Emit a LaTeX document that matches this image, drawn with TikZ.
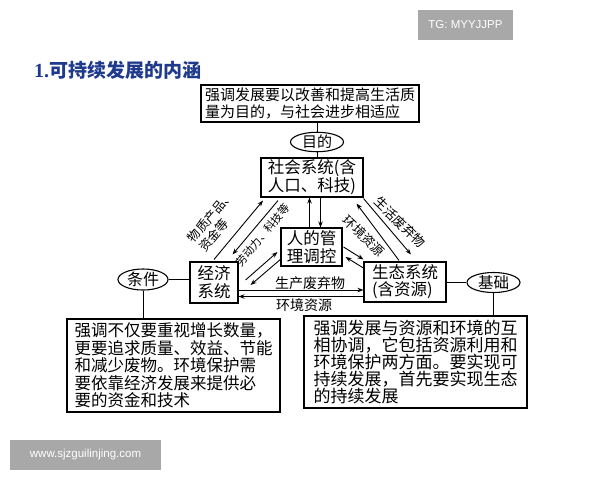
\documentclass[tikz,border=0pt]{standalone}
\usepackage{fontspec}
\setmainfont{Liberation Serif}
\newfontfamily\cjk{Noto Sans CJK SC}
\newfontfamily\wmfont{Liberation Sans}
\usetikzlibrary{arrows.meta,shapes.geometric,calc}
\definecolor{titleblue}{HTML}{1F3A8C}
\definecolor{wmgray}{HTML}{A8A8A8}
\begin{document}
\begin{tikzpicture}[x=1pt,y=-1pt,
  boxnode/.style={draw, line width=1.1pt, inner sep=0pt, align=left},
  ellnode/.style={draw, ellipse, line width=1.1pt, inner sep=0pt},
  link/.style={line width=1pt},
  arr/.style={-{Stealth[length=6pt,width=4.5pt]}, line width=0.9pt},
  lab/.style={inner sep=0pt, align=left, font=\cjk\fontsize{13}{16}\selectfont},
  wmark/.style={fill=wmgray, text=white, inner sep=0pt, font=\wmfont\fontsize{11.5}{13}\selectfont}
]
\useasboundingbox (0,0) rectangle (600,480);
\fill[white] (0,0) rectangle (600,480);

% watermarks and title
\node[wmark, minimum width=95pt, minimum height=30pt] (tg) at (465.5,25) {TG: MYYJJPP};
\node[wmark, minimum width=151pt, minimum height=30pt] (url) at (85.5,455) {www.sjzguilinjing.com};
\node[anchor=west, inner sep=0pt, text=titleblue] (title) at (34,70)
  {\fontsize{20}{22}\selectfont\bfseries 1.{\cjk\fontsize{19}{22}\selectfont 可持续发展的内涵}};

% nodes
\node[boxnode, minimum width=218pt, minimum height=37pt, font=\cjk\fontsize{15}{17}\selectfont] (top) at (310,103.5)
  {强调发展要以改善和提高生活质\\量为目的，与社会进步相适应};
\node[ellnode, minimum width=53pt, minimum height=19pt, font=\cjk\fontsize{15}{17}\selectfont] (mud) at (317,142) {目的};
\node[boxnode, minimum width=102pt, minimum height=39pt, font=\cjk\fontsize{16.5}{17}\selectfont] (soc) at (312,177.5)
  {社会系统(含\\人口、科技)};
\node[boxnode, minimum width=61pt, minimum height=38pt, font=\cjk\fontsize{16.5}{18}\selectfont] (mgr) at (311.5,247)
  {人的管\\理调控};
\node[boxnode, minimum width=48pt, minimum height=41pt, font=\cjk\fontsize{16.5}{18}\selectfont] (econ) at (214,282.5)
  {经济\\系统};
\node[boxnode, minimum width=82pt, minimum height=40pt, font=\cjk\fontsize{16.5}{17}\selectfont] (ecol) at (405,282)
  {生态系统\\(含资源)};
\node[ellnode, minimum width=50pt, minimum height=21pt, font=\cjk\fontsize{16}{17}\selectfont] (cond) at (143,279.5) {条件};
\node[ellnode, minimum width=53pt, minimum height=20pt, font=\cjk\fontsize{15.5}{17}\selectfont] (base) at (493.5,282.5) {基础};
\node[boxnode, minimum width=213pt, minimum height=93pt, font=\cjk\fontsize{16.5}{17.5}\selectfont] (lbox) at (173.5,365.5)
  {强调不仅要重视增长数量，\\更要追求质量、效益、节能\\和减少废物。环境保护需\\要依靠经济发展来提供必\\要的资金和技术};
\node[boxnode, minimum width=223pt, minimum height=92pt, font=\cjk\fontsize{17}{17}\selectfont] (rbox) at (415.5,362)
  {强调发展与资源和环境的互\\相协调，它包括资源利用和\\环境保护两方面。要实现可\\持续发展，首先要实现生态\\的持续发展};

% plain links
\draw[link] (top.south -| mud.north) -- (mud.north);
\draw[link] (mud.south) -- (soc.north -| mud.south);
\draw[link] (cond.east) -- (cond.east -| econ.west);
\draw[link] (cond.south) -- (cond.south |- lbox.north);
\draw[link] (ecol.east) -- (ecol.east -| base.west);
\draw[link] (base.south) -- (base.south |- rbox.north);

% society <-> management
\draw[arr] ([xshift=-2pt]mgr.north) -- ([xshift=-2pt]mgr.north |- soc.south);
\draw[arr] ([xshift=8.5pt]soc.south) -- ([xshift=8.5pt]soc.south |- mgr.north);

% economy <-> society
\draw[arr] ($(econ.north)+(0,-2)$) -- ($(soc.south)+(-49,3)$);
\draw[arr] ($(soc.south)+(-34,3)$) -- ($(econ.north east)+(-6,-7)$);

% society <-> ecology
\draw[arr] ($(soc.south east)+(0,1)$) -- ($(ecol.north)+(6,-7)$);
\draw[arr] ($(ecol.north)+(-6,-1)$) -- ($(soc.south east)+(-7,6)$);

% economy <-> management
\draw[arr] ($(econ.east)+(7,-2.5)$) -- ($(mgr.west)+(-3,5)$);
\draw[arr] ($(mgr.south west)+(1,-8)$) -- ($(econ.east)+(12,2.5)$);

% management <-> ecology
\draw[arr] ($(mgr.east)+(1,0)$) -- ($(ecol.north west)+(0,-2)$);
\draw[arr] ($(ecol.west)+(0,-14)$) -- ($(mgr.east)+(3,10)$);

% economy <-> ecology
\coordinate (e1) at ($(econ.east)+(0,7.5)$);
\coordinate (e2) at ($(econ.east)+(0,14)$);
\draw[arr] (e1) -- (e1 -| ecol.west);
\draw[arr] (e2 -| ecol.west) -- (e2);

% labels
\node[lab, rotate=50, font=\cjk\fontsize{12.5}{14.5}\selectfont] (l1) at (216,221) {物质产品、\\资金等};
\node[lab, rotate=50, font=\cjk\fontsize{11}{12}\selectfont] (l2) at (263,235) {劳动力、科技等};
\node[lab, rotate=-44] (l3) at (400,222) {生活废弃物};
\node[lab, rotate=-44] (l4) at (364,236) {环境资源};
\node[lab, font=\cjk\fontsize{14}{16}\selectfont] (l5) at (310,283) {生产废弃物};
\node[lab, font=\cjk\fontsize{14}{16}\selectfont] (l6) at (304,305) {环境资源};
\end{tikzpicture}
\end{document}
